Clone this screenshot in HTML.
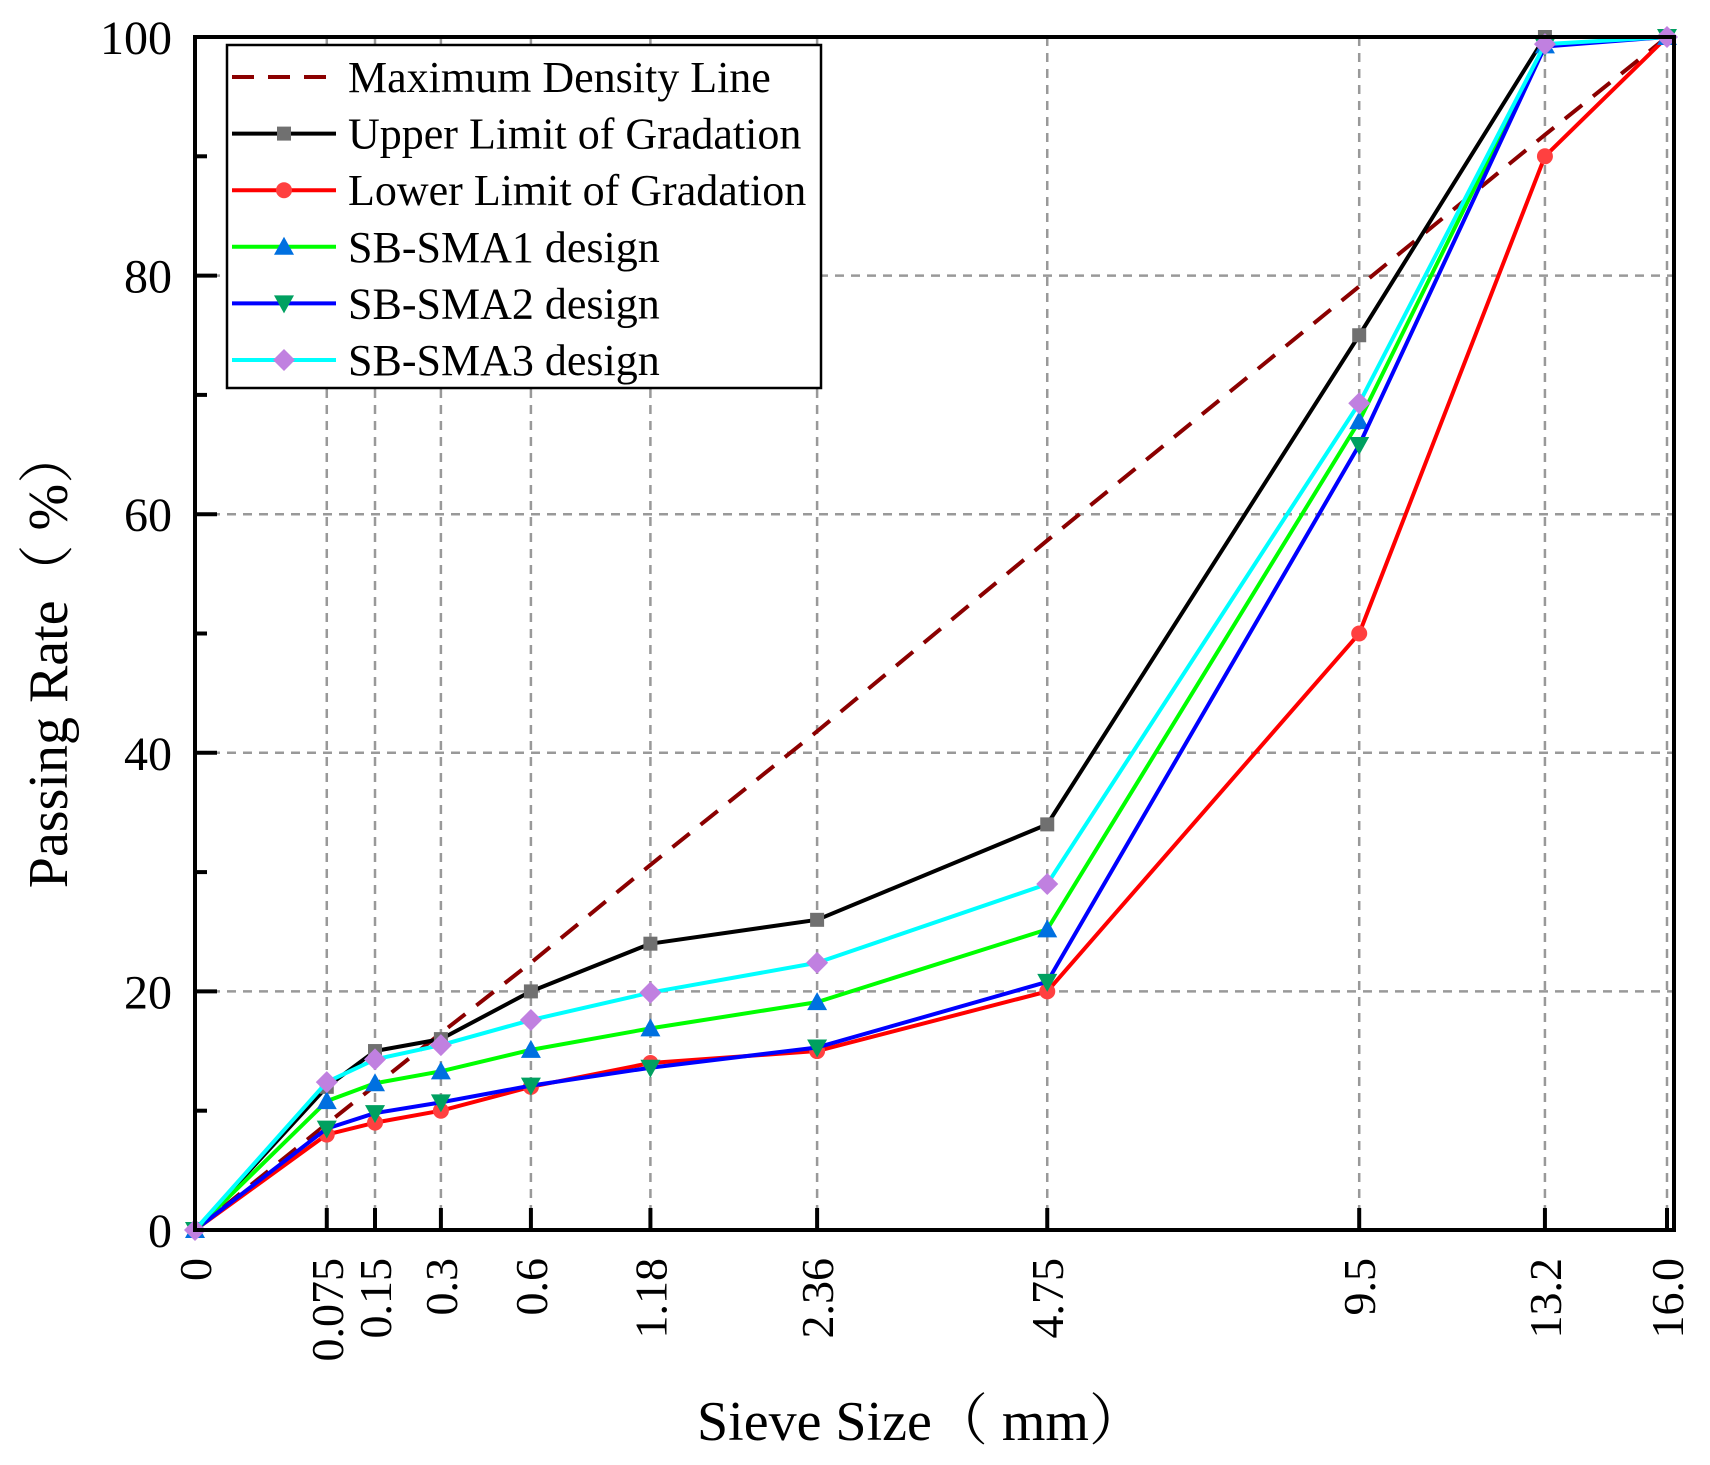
<!DOCTYPE html>
<html><head><meta charset="utf-8"><style>
body{margin:0;background:#fff;}
svg text{font-family:"Liberation Serif","Noto Serif CJK SC",serif;fill:#000;}
</style></head><body>
<svg id="chart" width="1710" height="1460" xmlns="http://www.w3.org/2000/svg">
<g id="grid"></g>
<g id="series"></g>
<g id="axes"></g>
<g id="legend"></g>
<text x="921" y="1440" font-size="56" text-anchor="middle">Sieve Size（  mm）</text>
<text transform="translate(67,658) rotate(-90)" font-size="56" text-anchor="middle">Passing Rate（ %）</text>
</svg>
<script>
const sieves=[0,0.075,0.15,0.3,0.6,1.18,2.36,4.75,9.5,13.2,16];
const xTickLabels=["0","0.075","0.15","0.3","0.6","1.18","2.36","4.75","9.5","13.2","16.0"];
const yTicks=[0,20,40,60,80,100];
const yMinor=[10,30,50,70,90];
const maxDensity=[0,8.9,12.1,16.5,22.4,30.6,41.8,57.8,79.1,91.8,100];
const upperLimit=[0,12,15,16,20,24,26,34,75,100,100];
const lowerLimit=[0,8,9,10,12,14,15,20,50,90,100];
const sma1=[0,10.8,12.3,13.3,15.1,16.9,19.1,25.2,67.8,99.3,100];
const sma2=[0,8.5,9.8,10.7,12.1,13.6,15.3,20.8,65.8,99.2,100];
const sma3=[0,12.4,14.3,15.5,17.6,19.9,22.4,29,69.3,99.4,100];

const NS="http://www.w3.org/2000/svg";
const L=195,R=1674,T=37,B=1230,X16=1667;
function xs(d){return L+(X16-L)*Math.pow(d/16,0.45);}
function ys(v){return B-(B-T)*v/100;}
function mk(tag,attrs,parent){const e=document.createElementNS(NS,tag);for(const k in attrs)e.setAttribute(k,attrs[k]);parent.appendChild(e);return e;}
const grid=document.getElementById('grid'),axes=document.getElementById('axes'),ser=document.getElementById('series'),leg=document.getElementById('legend');

sieves.forEach((d,i)=>{
  if(i>0){const g=mk('line',{x1:xs(d),x2:xs(d),y1:T,y2:B,stroke:'#999','stroke-width':2.5,'stroke-dasharray':'9,7'},grid);
  
  
  const tk=mk('line',{x1:xs(d),x2:xs(d),y1:B,y2:B-22,stroke:'#000','stroke-width':4},axes);
  
  }
  const t=mk('text',{transform:`translate(${xs(d)+16},1258) rotate(-90)`,'font-size':46,'text-anchor':'end'},axes);
  t.textContent=xTickLabels[i];
  
  
});
yTicks.forEach(v=>{
  if(v>0&&v<100){const g=mk('line',{x1:L,x2:R,y1:ys(v),y2:ys(v),stroke:'#999','stroke-width':2.5,'stroke-dasharray':'9,7'},grid);
  
  }
  const tk=mk('line',{x1:L,x2:L+22,y1:ys(v),y2:ys(v),stroke:'#000','stroke-width':4},axes);
  
  
  const t=mk('text',{x:172,y:ys(v)+17,'font-size':48,'text-anchor':'end'},axes);
  t.textContent=v;
  
  
});
yMinor.forEach(v=>{const tk=mk('line',{x1:L,x2:L+12,y1:ys(v),y2:ys(v),stroke:'#000','stroke-width':4},axes);
  
  });
const frame=mk('rect',{x:L,y:T,width:R-L,height:B-T,fill:'none',stroke:'#000','stroke-width':4},axes);



function marker(type,x,y,color,parent){
  let e;
  if(type==='square')e=mk('rect',{x:x-7,y:y-7,width:14,height:14,fill:color},parent);
  else if(type==='circle')e=mk('circle',{cx:x,cy:y,r:8,fill:color},parent);
  else if(type==='up')e=mk('polygon',{points:`${x},${y-10} ${x-10},${y+8} ${x+10},${y+8}`,fill:color},parent);
  else if(type==='down')e=mk('polygon',{points:`${x},${y+10} ${x-10},${y-8} ${x+10},${y-8}`,fill:color},parent);
  else if(type==='diamond')e=mk('polygon',{points:`${x},${y-11} ${x+11},${y} ${x},${y+11} ${x-11},${y}`,fill:color},parent);
  return e;
}
const defs=[
 {name:'Maximum Density Line',data:maxDensity,color:'#8b0000',dash:'22,14',m:null,id:'max-density'},
 {name:'Upper Limit of Gradation',data:upperLimit,color:'#000',m:'square',mc:'#707070',id:'upper-limit'},
 {name:'Lower Limit of Gradation',data:lowerLimit,color:'#ff0000',m:'circle',mc:'#ff4040',id:'lower-limit'},
 {name:'SB-SMA1 design',data:sma1,color:'#00ff00',m:'up',mc:'#0070e0',id:'sb-sma1'},
 {name:'SB-SMA2 design',data:sma2,color:'#0000ff',m:'down',mc:'#00a060',id:'sb-sma2'},
 {name:'SB-SMA3 design',data:sma3,color:'#00ffff',m:'diamond',mc:'#c080e0',id:'sb-sma3'}
];
defs.forEach(s=>{
  const g=mk('g',{},ser);
  
  
  const pts=s.data.map((v,i)=>xs(sieves[i])+','+ys(v)).join(' ');
  const pl=mk('polyline',{points:pts,fill:'none',stroke:s.color,'stroke-width':4,'stroke-linejoin':'round'},g);
  if(s.dash)pl.setAttribute('stroke-dasharray',s.dash);
  
  
  if(s.m)s.data.forEach((v,i)=>{const e=marker(s.m,xs(sieves[i]),ys(v),s.mc,g);
    
    });
});
const box=mk('rect',{x:227,y:45,width:594,height:343,fill:'#fff',stroke:'#000','stroke-width':2.5},leg);


defs.forEach((s,i)=>{
  const y=77+i*56.6;
  const g=mk('g',{},leg);
  
  
  const ln=mk('line',{x1:232,x2:336,y1:y,y2:y,stroke:s.color,'stroke-width':4},g);
  if(s.dash)ln.setAttribute('stroke-dasharray','22,14');
  if(s.m)marker(s.m,284,y,s.mc,g);
  const t=mk('text',{x:348,y:y+15,'font-size':44},g);
  t.textContent=s.name;
});
</script>
</body></html>
